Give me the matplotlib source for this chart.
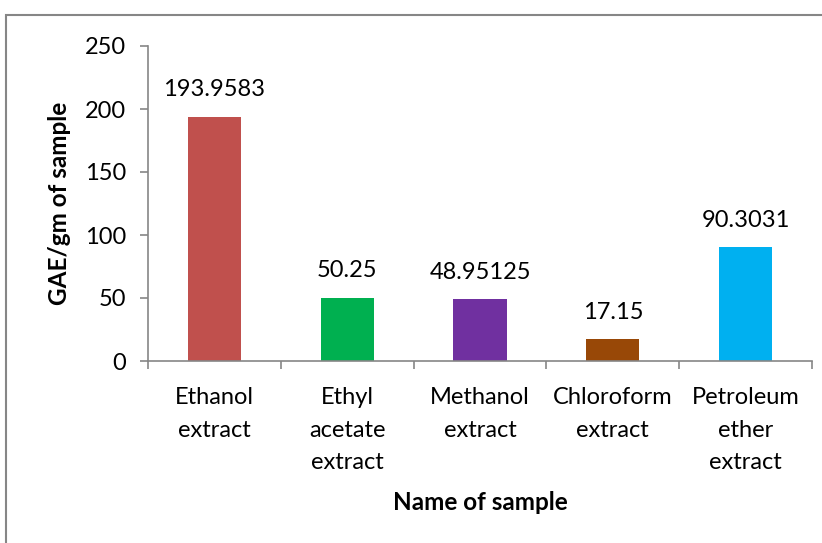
import matplotlib.pyplot as plt
import matplotlib.patches as mpatches
import numpy as np

plt.rcParams['font.family'] = ['Lato', 'DejaVu Sans']

# Dados do gráfico
amostras = ['Ethanol\nextract', 'Ethyl\nacetate\nextract', 'Methanol\nextract',
            'Chloroform\nextract', 'Petroleum\nether\nextract']
valores = [193.9583, 50.25, 48.95125, 17.15, 90.3031]
rotulos = ['193.9583', '50.25', '48.95125', '17.15', '90.3031']
cores = ['#C0504D', '#00B050', '#7030A0', '#984807', '#00B0F0']

fig = plt.figure(figsize=(8.22, 5.43), dpi=100)

# Moldura cinza do gráfico (estilo Excel)
fig.patches.append(mpatches.Rectangle((6 / 822, -0.05), 1.05, 1 - 15 / 543 + 0.05,
                                      transform=fig.transFigure, fill=False,
                                      edgecolor='#868686', linewidth=1.5))

ax = fig.add_axes([148 / 822, 1 - 361 / 543, (812 - 148) / 822, (361 - 46) / 543])

pos = np.arange(len(amostras))
ax.bar(pos, valores, width=0.4, color=cores)

for x, v, r in zip(pos, valores, rotulos):
    ax.annotate(r, (x, v), xytext=(0, 12), textcoords='offset points',
                ha='center', va='bottom', fontsize=17)

ax.set_xlim(-0.5, 4.5)
ax.set_ylim(0, 250)
ax.set_yticks(np.arange(0, 251, 50))

# Marcas entre as categorias, rótulos no centro
ax.set_xticks(np.arange(-0.5, 5, 1))
ax.set_xticklabels([])
ax.set_xticks(pos, minor=True)
ax.set_xticklabels(amostras, minor=True, fontsize=17, linespacing=1.66)
ax.tick_params(axis='x', which='minor', length=0, pad=19)
ax.tick_params(axis='x', which='major', length=6, color='#868686', width=1.2)
ax.tick_params(axis='y', length=6, color='#868686', width=1.2, labelsize=17, pad=10)

for s in ['top', 'right']:
    ax.spines[s].set_visible(False)
for s in ['left', 'bottom']:
    ax.spines[s].set_color('#868686')
    ax.spines[s].set_linewidth(1.2)

ax.set_ylabel('GAE/gm of sample', fontsize=17.5, fontweight='bold', labelpad=10)
ax.set_xlabel('Name of sample', fontsize=17.5, fontweight='bold', labelpad=13)

fig.savefig('out.png', dpi=100)
